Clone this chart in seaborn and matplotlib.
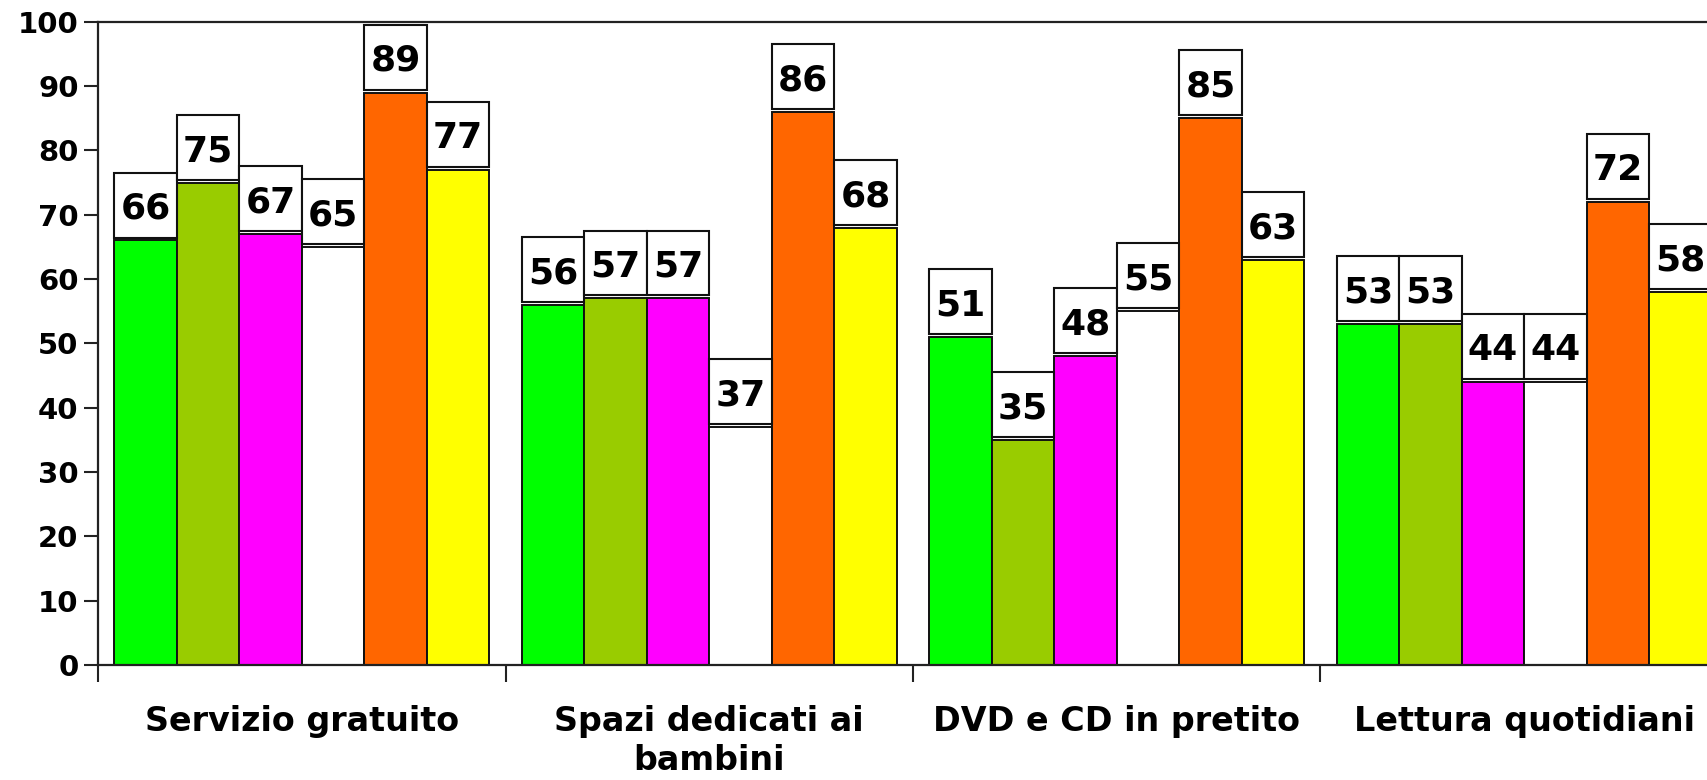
import matplotlib
matplotlib.use("Agg")
import matplotlib.pyplot as plt
from matplotlib.patches import Rectangle
import seaborn as sns
import pandas as pd

# data
categories = ["Servizio gratuito", "Spazi dedicati ai\nbambini",
              "DVD e CD in pretito", "Lettura quotidiani"]
series = ["Serie 1", "Serie 2", "Serie 3", "Serie 4", "Serie 5", "Serie 6"]
serie1 = [66, 56, 51, 53]
serie2 = [75, 57, 35, 53]
serie3 = [67, 57, 48, 44]
serie4 = [65, 37, 55, 44]
serie5 = [89, 86, 85, 72]
serie6 = [77, 68, 63, 58]
colors = ["#00FF00", "#99CC00", "#FF00FF", "#FFFFFF", "#FF6600", "#FFFF00"]

values = [serie1, serie2, serie3, serie4, serie5, serie6]
rows = []
for s, vals in zip(series, values):
    for c, v in zip(categories, vals):
        rows.append({"categoria": c, "serie": s, "valore": v})
df = pd.DataFrame(rows)

sns.set_theme(style="white")
plt.rcParams["font.family"] = ["DejaVu Sans"]
plt.rcParams["font.weight"] = "bold"
plt.rcParams["text.color"] = "black"

fig = plt.figure(figsize=(17.08, 7.8), dpi=100)
# axes runs past the right edge, like the original
ax = fig.add_axes([0.0574, 0.1474, 0.9543, 0.8247])

sns.barplot(data=df, x="categoria", y="valore", hue="serie", order=categories,
            hue_order=series, palette=colors, width=0.92, saturation=1,
            edgecolor="#111111", linewidth=1.4, legend=False, ax=ax)

# value labels in white boxes sitting on top of each bar
for cont in ax.containers:
    for bar in cont:
        h = bar.get_height()
        box = Rectangle((bar.get_x(), h + 0.45), bar.get_width(), 10.1,
                        facecolor="white", edgecolor="#111111", linewidth=1.5,
                        zorder=4, clip_on=False)
        ax.add_patch(box)
        ax.text(bar.get_x() + bar.get_width() / 2, h + 0.45 + 5.0, str(int(h)),
                ha="center", va="center_baseline", fontsize=26,
                fontweight="bold", color="black", zorder=5, clip_on=False)

ax.set_ylim(0, 100)
ax.set_xlim(-0.5, 3.5)
ax.set_yticks(range(0, 101, 10))
ax.set_xlabel("")
ax.set_ylabel("")

ax.set_xticks([-0.5, 0.5, 1.5, 2.5, 3.5], minor=True)
ax.tick_params(axis="x", which="major", length=0, pad=29, labelsize=24,
               labelcolor="black")
ax.tick_params(axis="x", which="minor", length=12, width=1.5, color="#222222",
               bottom=True, direction="out")
ax.tick_params(axis="y", which="major", length=10, width=1.5, color="#222222",
               left=True, direction="out", labelsize=21, pad=4,
               labelcolor="black")
for lab in ax.get_xticklabels() + ax.get_yticklabels():
    lab.set_fontweight("bold")
for lab in ax.get_xticklabels():
    lab.set_verticalalignment("top")

for side in ["left", "bottom", "top"]:
    ax.spines[side].set_visible(True)
    ax.spines[side].set_color("#222222")
    ax.spines[side].set_linewidth(1.6)
ax.spines["right"].set_visible(False)

fig.savefig("out.png", dpi=100)
